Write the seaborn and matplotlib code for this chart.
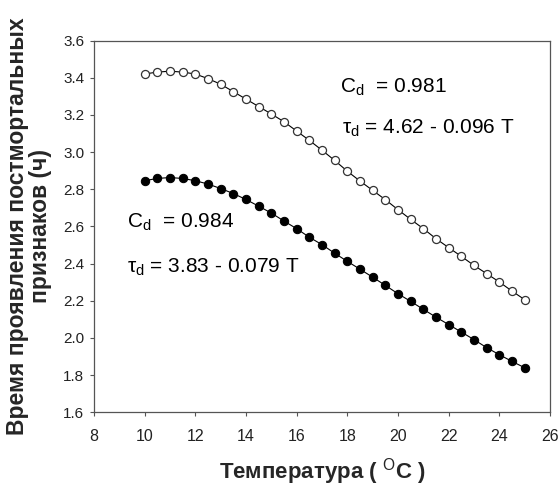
import numpy as np
import pandas as pd
import matplotlib
matplotlib.use('Agg')
import matplotlib.pyplot as plt
import seaborn as sns

# temperature grid, 10..25 step 0.5
temps = [10.0, 10.5, 11.0, 11.5, 12.0, 12.5, 13.0, 13.5, 14.0, 14.5, 15.0,
         15.5, 16.0, 16.5, 17.0, 17.5, 18.0, 18.5, 19.0, 19.5, 20.0, 20.5,
         21.0, 21.5, 22.0, 22.5, 23.0, 23.5, 24.0, 24.5, 25.0]

# open circles (upper curve)
upper = [3.42, 3.43, 3.435, 3.43, 3.42, 3.395, 3.365, 3.325, 3.285, 3.245,
         3.205, 3.163, 3.113, 3.063, 3.010, 2.955, 2.897, 2.844, 2.794, 2.744,
         2.690, 2.638, 2.588, 2.534, 2.486, 2.439, 2.390, 2.346, 2.301, 2.252,
         2.206]

# filled circles (lower curve)
lower = [2.846, 2.858, 2.863, 2.858, 2.846, 2.828, 2.804, 2.777, 2.745, 2.709,
         2.672, 2.629, 2.588, 2.542, 2.502, 2.456, 2.412, 2.370, 2.327, 2.283,
         2.238, 2.197, 2.154, 2.112, 2.072, 2.032, 1.991, 1.948, 1.910, 1.874,
         1.840]

xticks = [8, 10, 12, 14, 16, 18, 20, 22, 24, 26]
yticks = [1.6, 1.8, 2.0, 2.2, 2.4, 2.6, 2.8, 3.0, 3.2, 3.4, 3.6]

df = pd.DataFrame({'T': temps, 'upper': upper, 'lower': lower})

sns.set_theme(style='ticks')
plt.rcParams['font.family'] = ['Liberation Sans', 'DejaVu Sans']
plt.rcParams['mathtext.fontset'] = 'custom'
plt.rcParams['mathtext.rm'] = 'Liberation Sans'
plt.rcParams['mathtext.it'] = 'Liberation Sans'
plt.rcParams['mathtext.bf'] = 'Liberation Sans:bold'

fig = plt.figure(figsize=(5.59, 4.88), dpi=100)
ax = fig.add_axes([0.168, 0.155, 0.816, 0.762])

sns.lineplot(data=df, x='T', y='upper', ax=ax, color='black', linewidth=0.8,
             marker='o', markersize=5.8, markerfacecolor='white',
             markeredgecolor='#333333', markeredgewidth=0.9)
sns.lineplot(data=df, x='T', y='lower', ax=ax, color='black', linewidth=0.8,
             marker='o', markersize=6, markerfacecolor='black',
             markeredgecolor='black')

ax.set_xlim(8, 26)
ax.set_ylim(1.6, 3.6)
ax.set_xticks(xticks)
ax.set_yticks(yticks)
ax.set_yticklabels([f'{v:.1f}' for v in yticks])
ax.tick_params(length=3, width=0.8, color='#555555', labelcolor='#222222')
ax.tick_params(axis='x', labelsize=11.5, pad=9)
ax.tick_params(axis='y', labelsize=11, pad=4)
for sp in ax.spines.values():
    sp.set_linewidth(0.9)
    sp.set_color('#555555')

ax.set_xlabel('Температура ( $^{\\mathrm{O}}$C )', fontsize=16,
              fontweight='bold', labelpad=9)
ax.set_ylabel('Время проявления постмортальных\nпризнаков (ч)', fontsize=16.5,
              fontweight='bold', linespacing=1.0, labelpad=8)

txt = dict(fontsize=15, color='black', va='center', ha='left')
ax.text(17.7, 3.35, 'C$_{\\mathrm{d}}$  = 0.981', **txt)
ax.text(17.8, 3.13, 'τ$_{\\mathrm{d}}$ = 4.62 - 0.096 T', **txt)
ax.text(9.3, 2.62, 'C$_{\\mathrm{d}}$  = 0.984', **txt)
ax.text(9.3, 2.38, 'τ$_{\\mathrm{d}}$ = 3.83 - 0.079 T', **txt)

fig.savefig('out.png', dpi=100)
